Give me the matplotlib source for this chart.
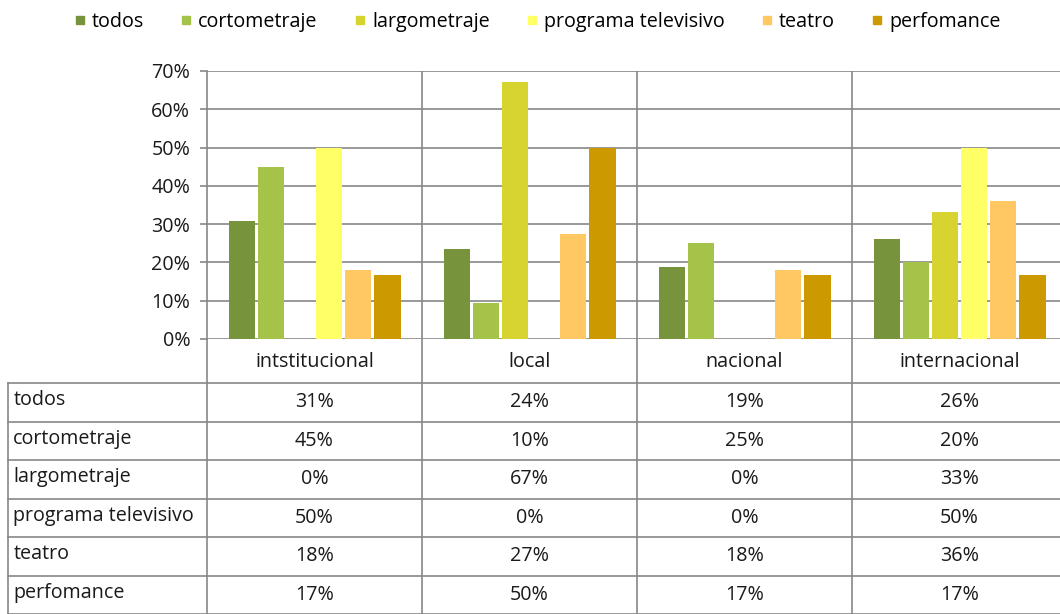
import matplotlib.pyplot as plt
import numpy as np
from matplotlib.lines import Line2D

plt.rcParams['font.family'] = ['Open Sans', 'DejaVu Sans']

categories = ["intstitucional", "local", "nacional", "internacional"]
series = ["todos", "cortometraje", "largometraje", "programa televisivo", "teatro", "perfomance"]

todos = [0.308, 0.235, 0.188, 0.26]
cortometraje = [0.448, 0.095, 0.25, 0.20]
largometraje = [0.0, 0.67, 0.0, 0.333]
programa = [0.50, 0.0, 0.0, 0.50]
teatro = [0.18, 0.273, 0.18, 0.36]
perfomance = [0.167, 0.50, 0.167, 0.167]

values = [todos, cortometraje, largometraje, programa, teatro, perfomance]
colors = ["#77933c", "#a5c249", "#d7d431", "#ffff66", "#ffc863", "#cc9900"]

grid_c = "#878787"
txt_c = "#1a1a1a"
fs = 14.2
W, H = 1060, 614
fig = plt.figure(figsize=(W / 100, H / 100), dpi=100)

# chart area in pixel terms
x0, x1 = 207, 1067
y_top, y_zero = 71, 339
ax = fig.add_axes([x0 / W, (H - y_zero) / H, (x1 - x0) / W, (y_zero - y_top) / H])

xc = np.arange(len(categories)) + 0.5
slot = 0.135
bw = 0.125
for i, (name, vals, c) in enumerate(zip(series, values, colors)):
    ax.bar(xc + (i - 2.5) * slot, vals, width=bw, color=c, linewidth=0, label=name, zorder=3)

ax.set_xlim(0, len(categories))
ax.set_ylim(0, 0.7)
ax.set_yticks(np.arange(0, 0.71, 0.1))
ax.set_yticklabels([f"{int(round(t * 100))}%" for t in np.arange(0, 0.71, 0.1)], fontsize=fs, color=txt_c)
ax.set_xticks([])
ax.yaxis.grid(True, color=grid_c, linewidth=1.2)
ax.set_axisbelow(True)
for k in range(1, len(categories)):
    ax.axvline(k, color=grid_c, linewidth=1.2, zorder=1)
for s in ["top", "right", "bottom"]:
    ax.spines[s].set_visible(False)
ax.spines["left"].set_color(grid_c)
ax.spines["left"].set_linewidth(1.2)
ax.tick_params(axis="y", length=5, width=1.2, color=grid_c, pad=7)

# data table below the chart
tab = fig.add_axes([x0 / W, 0, (x1 - x0) / W, (H - y_zero) / H])
tab.set_xlim(0, len(categories))
tab.set_ylim(H - y_zero, 0)
tab.axis("off")
left_x = (8 - x0) / ((x1 - x0) / len(categories))
head_h = 44
row_h = (H - y_zero - head_h) / len(series)

for j, cat in enumerate(categories):
    tab.text(xc[j], head_h / 2 + 1, cat, ha="center", va="center", fontsize=fs, color=txt_c)
for k in range(0, len(categories) + 1):
    tab.plot([k, k], [0, H - y_zero], color=grid_c, linewidth=1.2, clip_on=False)
tab.plot([left_x, left_x], [head_h, H - y_zero], color=grid_c, linewidth=1.2, clip_on=False)
for r in range(len(series) + 1):
    y = head_h + r * row_h
    tab.plot([left_x, len(categories)], [y, y], color=grid_c, linewidth=1.2, clip_on=False)
for r, (name, vals) in enumerate(zip(series, values)):
    yc = head_h + (r + 0.5) * row_h
    tab.text(left_x + 0.025, yc - 2, name, ha="left", va="center", fontsize=fs, color=txt_c, clip_on=False)
    for j, v in enumerate(vals):
        tab.text(xc[j], yc, f"{int(v * 100 + 0.5)}%", ha="center", va="center", fontsize=fs, color=txt_c)

handles = [Line2D([], [], marker="s", linestyle="none", markersize=5.5, markerfacecolor=c, markeredgecolor=c)
           for c in colors]
fig.legend(handles, series, loc="center", bbox_to_anchor=(0.505, 1 - 22 / H), ncol=6, frameon=False,
           fontsize=fs, handletextpad=0.1, columnspacing=1.65, handlelength=1.0)

fig.savefig("out.png", dpi=100)
